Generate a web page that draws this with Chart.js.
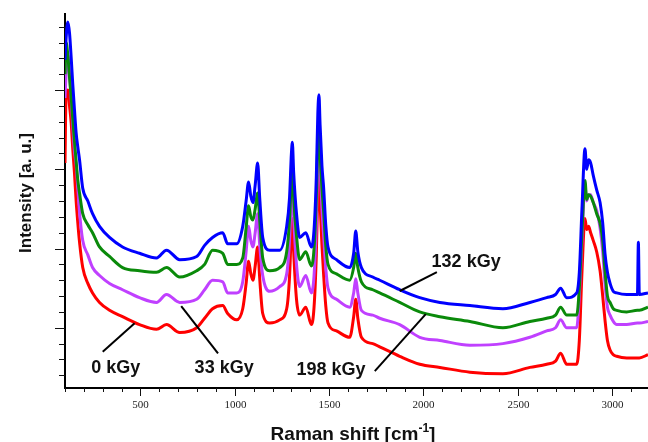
<!DOCTYPE html>
<html lang="en">
<head>
    <meta charset="UTF-8">
    <title>Raman spectra</title>
    <script src="https://cdn.jsdelivr.net/npm/chart.js"></script>
    <style>
        body { margin: 0; background: #fff; }
        #wrap { width: 648px; height: 442px; position: relative; }
    </style>
</head>
<body>
    <div id="wrap"><canvas id="myChart"></canvas></div>

    <script>
        // Raman shift (cm-1), shared by all four spectra
        const ramanShift = [100, 106, 115, 124, 133, 141, 150, 159, 168, 177, 194, 221, 246, 283, 336, 405, 495, 585, 638, 708,
            798, 840, 882, 936, 962, 1010, 1042, 1060, 1073, 1085, 1096, 1108, 1121, 1132, 1148, 1185, 1238, 1275, 1290, 1300,
            1305, 1312, 1327, 1344, 1376, 1406, 1420, 1432, 1440, 1446, 1452, 1462, 1471, 1482, 1494, 1539, 1609, 1630, 1641, 1652,
            1671, 1731, 1768, 1874, 1980, 2087, 2246, 2421, 2564, 2653, 2700, 2727, 2759, 2812, 2826, 2840, 2856, 2865, 2875, 2886,
            2900, 2918, 2936, 2950, 2962, 2975, 2989, 3006, 3024, 3077, 3134, 3139, 3144, 3190];

        // intensities (a.u.)
        const dose132 = [21.9, 23.3, 24.3, 23.6, 22.0, 20.4, 18.8, 17.3, 16.4, 15.6, 13.8, 13.0, 12.2, 11.4, 10.7, 10.1, 9.7, 9.4, 9.9, 9.3,
            9.5, 10.2, 10.7, 11.0, 10.3, 10.3, 11.4, 13.0, 14.2, 13.3, 12.9, 14.0, 15.4, 13.2, 10.7, 9.9, 9.9, 11.4, 13.2, 16.0,
            16.7, 14.8, 12.2, 10.7, 11.0, 10.1, 11.2, 14.5, 18.5, 19.7, 17.8, 15.2, 13.8, 11.5, 10.1, 9.3, 8.8, 9.7, 11.1, 9.8,
            8.8, 8.2, 8.0, 7.4, 6.9, 6.6, 6.4, 6.2, 6.6, 6.9, 7.1, 7.5, 6.9, 7.2, 8.5, 12.5, 16.3, 15.0, 15.6, 15.4,
            14.6, 13.7, 12.9, 11.6, 9.7, 8.5, 7.8, 7.3, 7.2, 7.1, 7.1, 10.4, 7.1, 7.2];
        const dose198 = [21.0, 23.0, 22.2, 20.8, 19.5, 18.2, 16.8, 15.5, 14.3, 13.5, 12.2, 11.5, 11.0, 10.1, 9.5, 8.8, 8.6, 8.5, 8.8, 8.2,
            8.6, 9.0, 9.9, 9.7, 9.0, 9.0, 9.4, 11.3, 12.7, 12.0, 11.8, 12.5, 13.5, 11.8, 9.4, 8.6, 8.8, 9.8, 11.8, 14.5,
            15.2, 13.2, 10.8, 9.3, 9.8, 8.9, 10.0, 13.2, 16.8, 17.8, 16.0, 13.8, 12.3, 10.2, 9.0, 8.4, 8.0, 8.8, 9.7, 8.8,
            7.9, 7.4, 7.2, 6.6, 6.0, 5.7, 5.4, 5.0, 5.4, 5.6, 5.8, 6.3, 5.8, 5.8, 7.5, 11.0, 14.3, 13.1, 13.4, 13.3,
            12.9, 12.2, 11.6, 10.5, 8.6, 7.0, 6.6, 6.2, 6.1, 6.0, 6.1, 6.1, 6.1, 6.3];
        const dose33 = [19.5, 21.0, 22.2, 21.0, 19.4, 17.8, 16.2, 15.3, 13.8, 12.3, 10.5, 9.6, 8.8, 8.3, 7.8, 7.4, 6.9, 6.6, 7.1, 6.6,
            6.8, 7.4, 8.0, 7.9, 7.2, 7.2, 7.9, 9.8, 11.4, 10.5, 10.1, 11.0, 12.2, 10.2, 8.3, 7.3, 7.6, 8.4, 10.5, 13.4,
            14.2, 12.0, 9.0, 7.6, 8.3, 7.2, 8.3, 11.5, 15.8, 17.2, 15.2, 12.5, 10.8, 8.8, 7.5, 6.8, 6.3, 7.2, 8.1, 7.2,
            6.1, 5.8, 5.6, 5.2, 4.4, 4.2, 3.9, 4.0, 4.4, 4.8, 5.0, 5.5, 5.0, 5.0, 7.0, 10.5, 14.0, 13.0, 13.4, 13.4,
            12.9, 12.4, 11.3, 9.8, 7.8, 6.3, 5.8, 5.4, 5.2, 5.2, 5.3, 5.3, 5.3, 5.4];
        const dose0 = [15.4, 19.8, 20.0, 19.0, 17.9, 16.3, 14.8, 13.0, 11.6, 10.4, 8.8, 7.8, 7.2, 6.6, 6.1, 5.7, 5.2, 4.9, 5.2, 4.7,
            5.0, 5.6, 6.2, 6.4, 5.9, 5.5, 6.2, 7.8, 9.2, 8.4, 8.0, 8.9, 10.1, 8.1, 5.9, 5.3, 5.5, 6.2, 8.2, 11.2,
            11.9, 9.8, 6.8, 5.8, 6.3, 5.2, 6.3, 9.6, 13.5, 14.6, 12.8, 10.2, 8.3, 6.4, 5.3, 4.8, 4.4, 5.7, 6.8, 5.6,
            4.4, 4.0, 3.8, 3.2, 2.7, 2.5, 2.2, 2.1, 2.5, 2.7, 2.9, 3.4, 2.7, 2.7, 4.2, 8.5, 11.9, 11.2, 11.4, 11.0,
            10.5, 9.8, 8.6, 7.0, 5.5, 4.2, 3.6, 3.3, 3.2, 3.1, 3.1, 3.1, 3.1, 3.3];

        // dose labels: text (left, baseline) and leader line, in data units
        const labelTexts = ['0 kGy', '33 kGy', '198 kGy', '132 kGy'];
        const labelAt = [[239, 2.14], [787, 2.14], [1327, 2.01], [2043, 8.85]];
        const leaderLines = [[300, 3.49, 469, 5.28], [716, 6.37, 911, 3.38], [1742, 2.27, 2012, 5.86], [1874, 7.32, 2071, 8.51]];

        const toPoints = vals => ramanShift.map((s, i) => ({ x: s, y: vals[i] }));

        // tick marks, tick labels, dose labels and axis titles
        const extras = {
            id: 'extras',
            afterDraw(chart) {
                const { ctx, chartArea: area, scales: { x, y } } = chart;
                ctx.save();
                ctx.strokeStyle = '#111';
                ctx.lineWidth = 1;
                for (let v = 2; v <= 24; v++) {
                    const py = Math.round(y.getPixelForValue(v)) + 0.5;
                    const len = v % 5 === 0 ? 10 : 6;
                    ctx.beginPath();
                    ctx.moveTo(area.left - len, py);
                    ctx.lineTo(area.left, py);
                    ctx.stroke();
                }
                ctx.fillStyle = '#222';
                ctx.font = '11px "Liberation Serif", serif';
                ctx.textAlign = 'center';
                ctx.textBaseline = 'middle';
                for (let v = 100; v <= 3190; v += 100) {
                    const px = Math.round(x.getPixelForValue(v)) + 0.5;
                    const major = v % 500 === 0;
                    ctx.beginPath();
                    ctx.moveTo(px, area.bottom);
                    ctx.lineTo(px, area.bottom + (major ? 8 : 4));
                    ctx.stroke();
                    if (major) ctx.fillText(String(v), px, area.bottom + 17);
                }

                ctx.strokeStyle = '#000';
                ctx.lineWidth = 2;
                leaderLines.forEach(l => {
                    ctx.beginPath();
                    ctx.moveTo(x.getPixelForValue(l[0]), y.getPixelForValue(l[1]));
                    ctx.lineTo(x.getPixelForValue(l[2]), y.getPixelForValue(l[3]));
                    ctx.stroke();
                });

                ctx.fillStyle = '#111';
                ctx.font = 'bold 18px "Liberation Sans", Arial, sans-serif';
                ctx.textBaseline = 'alphabetic';
                ctx.textAlign = 'left';
                labelTexts.forEach((t, i) => {
                    ctx.fillText(t, x.getPixelForValue(labelAt[i][0]), y.getPixelForValue(labelAt[i][1]));
                });

                // y title
                ctx.save();
                ctx.translate(31, 193);
                ctx.rotate(-Math.PI / 2);
                ctx.textAlign = 'center';
                ctx.font = 'bold 17px "Liberation Sans", Arial, sans-serif';
                ctx.fillText('Intensity [a. u.]', 0, 0);
                ctx.restore();

                // x title with superscript
                const main = 'Raman shift [cm';
                const sup = '-1';
                const end = ']';
                const big = 'bold 19px "Liberation Sans", Arial, sans-serif';
                const small = 'bold 12px "Liberation Sans", Arial, sans-serif';
                ctx.font = big;
                const w1 = ctx.measureText(main).width;
                const w3 = ctx.measureText(end).width;
                ctx.font = small;
                const w2 = ctx.measureText(sup).width;
                let tx = 353 - (w1 + w2 + w3) / 2;
                const base = 440;
                ctx.font = big;
                ctx.fillText(main, tx, base);
                tx += w1;
                ctx.font = small;
                ctx.fillText(sup, tx, base - 8);
                tx += w2;
                ctx.font = big;
                ctx.fillText(end, tx, base);
                ctx.restore();
            }
        };

        const ctx = document.getElementById('myChart').getContext('2d');
        const chart = new Chart(ctx, {
            type: 'line',
            data: {
                datasets: [
                    { label: '132 kGy', data: toPoints(dose132), borderColor: '#0000ff' },
                    { label: '198 kGy', data: toPoints(dose198), borderColor: '#0a8a0a' },
                    { label: '33 kGy', data: toPoints(dose33), borderColor: '#c040ff' },
                    { label: '0 kGy', data: toPoints(dose0), borderColor: '#ff0000' }
                ]
            },
            options: {
                responsive: true,
                maintainAspectRatio: false,
                animation: false,
                layout: { padding: { top: 14, right: 0, left: 0, bottom: 0 } },
                elements: {
                    point: { radius: 0 },
                    line: { borderWidth: 3, cubicInterpolationMode: 'monotone' }
                },
                plugins: {
                    legend: { display: false },
                    tooltip: { enabled: false }
                },
                scales: {
                    x: {
                        type: 'linear',
                        min: 100,
                        max: 3190,
                        afterFit: s => { s.height = 54; s.paddingLeft = 0; s.paddingRight = 0; },
                        grid: { display: false },
                        border: { color: '#000', width: 2 },
                        ticks: { display: false, stepSize: 100 }
                    },
                    y: {
                        min: 1.2,
                        max: 24.8,
                        afterFit: s => { s.width = 65; s.paddingTop = 0; s.paddingBottom = 0; },
                        grid: { display: false },
                        border: { color: '#000', width: 2 },
                        ticks: { display: false, stepSize: 1 }
                    }
                }
            },
            plugins: [extras]
        });
    </script>
</body>
</html>
